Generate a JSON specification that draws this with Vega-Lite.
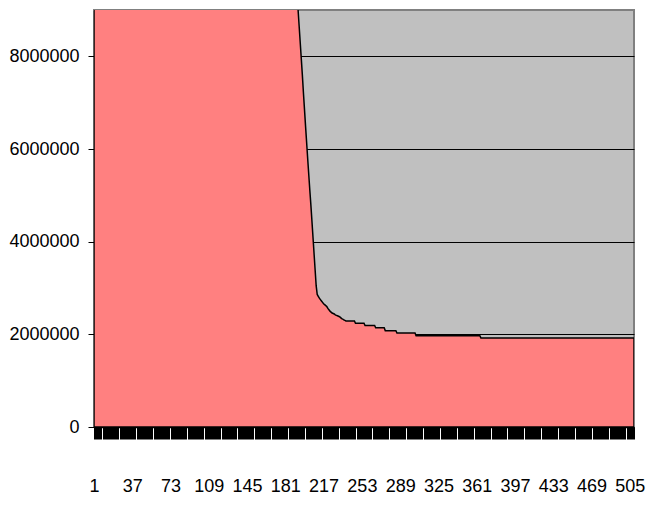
{
  "$schema": "https://vega.github.io/schema/vega-lite/v6.json",
  "autosize": {"type": "none"},
  "padding": {"left": 94, "top": 10, "right": 14, "bottom": 80},
  "width": 540,
  "height": 417,
  "background": "white",
  "config": {
    "view": {"fill": "#C0C0C0", "stroke": "#808080", "strokeWidth": 2},
    "axis": {
      "labelFont": "Liberation Sans",
      "labelFontSize": 18,
      "labelColor": "black",
      "domainColor": "black",
      "domainWidth": 1.5,
      "tickColor": "black",
      "tickWidth": 1,
      "title": null
    }
  },
  "data": {
    "values": [
      {"i":1,"v":68400000},{"i":2,"v":66950000},{"i":3,"v":65700000},{"i":4,"v":64320000},{"i":5,"v":63100000},
      {"i":6,"v":61880000},{"i":7,"v":60750000},{"i":8,"v":59600000},{"i":9,"v":58520000},{"i":10,"v":57410000},
      {"i":11,"v":56380000},{"i":12,"v":55300000},{"i":13,"v":54310000},{"i":14,"v":53290000},{"i":15,"v":52330000},
      {"i":16,"v":51360000},{"i":17,"v":50440000},{"i":18,"v":49500000},{"i":19,"v":48620000},{"i":20,"v":47730000},
      {"i":21,"v":46880000},{"i":22,"v":46020000},{"i":23,"v":45210000},{"i":24,"v":44390000},{"i":25,"v":43600000},
      {"i":26,"v":42820000},{"i":27,"v":42070000},{"i":28,"v":41310000},{"i":29,"v":40590000},{"i":30,"v":39860000},
      {"i":31,"v":39170000},{"i":32,"v":38470000},{"i":33,"v":37800000},{"i":34,"v":37130000},{"i":35,"v":36490000},
      {"i":36,"v":35840000},{"i":37,"v":35220000},{"i":38,"v":34600000},{"i":39,"v":34010000},{"i":40,"v":33410000},
      {"i":41,"v":32840000},{"i":42,"v":32270000},{"i":43,"v":31720000},{"i":44,"v":31170000},{"i":45,"v":30650000},
      {"i":46,"v":30120000},{"i":47,"v":29620000},{"i":48,"v":29110000},{"i":49,"v":28630000},{"i":50,"v":28140000},
      {"i":51,"v":27680000},{"i":52,"v":27220000},{"i":53,"v":26780000},{"i":54,"v":26330000},{"i":55,"v":25910000},
      {"i":56,"v":25490000},{"i":57,"v":25080000},{"i":58,"v":24680000},{"i":59,"v":24290000},{"i":60,"v":23900000},
      {"i":61,"v":23530000},{"i":62,"v":23160000},{"i":63,"v":22800000},{"i":64,"v":22450000},{"i":65,"v":22110000},
      {"i":66,"v":21770000},{"i":67,"v":21440000},{"i":68,"v":21120000},{"i":69,"v":20810000},{"i":70,"v":20500000},
      {"i":71,"v":20200000},{"i":72,"v":19910000},{"i":73,"v":19620000},{"i":74,"v":19340000},{"i":75,"v":19070000},
      {"i":76,"v":18800000},{"i":77,"v":18540000},{"i":78,"v":18290000},{"i":79,"v":18040000},{"i":80,"v":17800000},
      {"i":81,"v":17560000},{"i":82,"v":17330000},{"i":83,"v":17110000},{"i":84,"v":16890000},{"i":85,"v":16670000},
      {"i":86,"v":16460000},{"i":87,"v":16260000},{"i":88,"v":16060000},{"i":89,"v":15870000},{"i":90,"v":15680000},
      {"i":91,"v":15490000},{"i":92,"v":15310000},{"i":93,"v":15140000},{"i":94,"v":14970000},{"i":95,"v":14800000},
      {"i":96,"v":14640000},{"i":97,"v":14480000},{"i":98,"v":14330000},{"i":99,"v":14180000},{"i":100,"v":14030000},
      {"i":101,"v":13890000},{"i":102,"v":13750000},{"i":103,"v":13620000},{"i":104,"v":13490000},{"i":105,"v":13360000},
      {"i":106,"v":13240000},{"i":107,"v":13120000},{"i":108,"v":13000000},{"i":109,"v":12890000},{"i":110,"v":12780000},
      {"i":111,"v":12670000},{"i":112,"v":12570000},{"i":113,"v":12470000},{"i":114,"v":12370000},{"i":115,"v":12270000},
      {"i":116,"v":12180000},{"i":117,"v":12090000},{"i":118,"v":12000000},{"i":119,"v":11920000},{"i":120,"v":11840000},
      {"i":121,"v":11760000},{"i":122,"v":11680000},{"i":123,"v":11600000},{"i":124,"v":11530000},{"i":125,"v":11460000},
      {"i":126,"v":11390000},{"i":127,"v":11320000},{"i":128,"v":11250000},{"i":129,"v":11190000},{"i":130,"v":11130000},
      {"i":131,"v":11070000},{"i":132,"v":11010000},{"i":133,"v":10950000},{"i":134,"v":10900000},{"i":135,"v":10850000},
      {"i":136,"v":10800000},{"i":137,"v":10750000},{"i":138,"v":10700000},{"i":139,"v":10650000},{"i":140,"v":10610000},
      {"i":141,"v":10570000},{"i":142,"v":10530000},{"i":143,"v":10490000},{"i":144,"v":10450000},{"i":145,"v":10410000},
      {"i":146,"v":10370000},{"i":147,"v":10340000},{"i":148,"v":10310000},{"i":149,"v":10280000},{"i":150,"v":10250000},
      {"i":151,"v":10220000},{"i":152,"v":10190000},{"i":153,"v":10160000},{"i":154,"v":10130000},{"i":155,"v":10100000},
      {"i":156,"v":10080000},{"i":157,"v":10060000},{"i":158,"v":10040000},{"i":159,"v":10020000},{"i":160,"v":10000000},
      {"i":161,"v":9980000},{"i":162,"v":9960000},{"i":163,"v":9940000},{"i":164,"v":9920000},{"i":165,"v":9900000},
      {"i":166,"v":9880000},{"i":167,"v":9860000},{"i":168,"v":9840000},{"i":169,"v":9820000},{"i":170,"v":9800000},
      {"i":171,"v":9780000},{"i":172,"v":9760000},{"i":173,"v":9740000},{"i":174,"v":9720000},{"i":175,"v":9700000},
      {"i":176,"v":9680000},{"i":177,"v":9660000},{"i":178,"v":9640000},{"i":179,"v":9620000},{"i":180,"v":9600000},
      {"i":181,"v":9580000},{"i":182,"v":9560000},{"i":183,"v":9540000},{"i":184,"v":9520000},{"i":185,"v":9500000},
      {"i":186,"v":9480000},{"i":187,"v":9460000},{"i":188,"v":9440000},{"i":189,"v":9420000},{"i":190,"v":9400000},
      {"i":191,"v":9380000},{"i":192,"v":9350000},{"i":193,"v":9000000},{"i":194,"v":8650000},{"i":195,"v":8300000},
      {"i":196,"v":7950000},{"i":197,"v":7600000},{"i":198,"v":7220000},{"i":199,"v":6860000},{"i":200,"v":6500000},
      {"i":201,"v":6150000},{"i":202,"v":5800000},{"i":203,"v":5460000},{"i":204,"v":5120000},{"i":205,"v":4800000},
      {"i":206,"v":4450000},{"i":207,"v":4100000},{"i":208,"v":3750000},{"i":209,"v":3400000},{"i":210,"v":3050000},
      {"i":211,"v":2860000},{"i":212,"v":2820000},{"i":213,"v":2780000},{"i":214,"v":2750000},{"i":215,"v":2720000},
      {"i":216,"v":2690000},{"i":217,"v":2660000},{"i":218,"v":2640000},{"i":219,"v":2620000},{"i":220,"v":2600000},
      {"i":221,"v":2560000},{"i":222,"v":2530000},{"i":223,"v":2500000},{"i":224,"v":2480000},{"i":225,"v":2460000},
      {"i":226,"v":2450000},{"i":227,"v":2440000},{"i":228,"v":2420000},{"i":229,"v":2410000},{"i":230,"v":2400000},
      {"i":231,"v":2390000},{"i":232,"v":2380000},{"i":233,"v":2360000},{"i":234,"v":2340000},{"i":235,"v":2330000},
      {"i":236,"v":2310000},{"i":237,"v":2300000},{"i":238,"v":2290000},{"i":239,"v":2290000},{"i":240,"v":2290000},
      {"i":241,"v":2290000},{"i":242,"v":2290000},{"i":243,"v":2290000},{"i":244,"v":2290000},{"i":245,"v":2290000},
      {"i":246,"v":2290000},{"i":247,"v":2240000},{"i":248,"v":2240000},{"i":249,"v":2240000},{"i":250,"v":2240000},
      {"i":251,"v":2240000},{"i":252,"v":2240000},{"i":253,"v":2240000},{"i":254,"v":2240000},{"i":255,"v":2240000},
      {"i":256,"v":2190000},{"i":257,"v":2190000},{"i":258,"v":2190000},{"i":259,"v":2190000},{"i":260,"v":2190000},
      {"i":261,"v":2190000},{"i":262,"v":2190000},{"i":263,"v":2190000},{"i":264,"v":2190000},{"i":265,"v":2190000},
      {"i":266,"v":2140000},{"i":267,"v":2140000},{"i":268,"v":2140000},{"i":269,"v":2140000},{"i":270,"v":2140000},
      {"i":271,"v":2140000},{"i":272,"v":2140000},{"i":273,"v":2140000},{"i":274,"v":2140000},{"i":275,"v":2080000},
      {"i":276,"v":2080000},{"i":277,"v":2080000},{"i":278,"v":2080000},{"i":279,"v":2080000},{"i":280,"v":2080000},
      {"i":281,"v":2080000},{"i":282,"v":2080000},{"i":283,"v":2080000},{"i":284,"v":2080000},{"i":285,"v":2080000},
      {"i":286,"v":2030000},{"i":287,"v":2030000},{"i":288,"v":2030000},{"i":289,"v":2030000},{"i":290,"v":2030000},
      {"i":291,"v":2030000},{"i":292,"v":2030000},{"i":293,"v":2030000},{"i":294,"v":2030000},{"i":295,"v":2030000},
      {"i":296,"v":2030000},{"i":297,"v":2030000},{"i":298,"v":2030000},{"i":299,"v":2030000},{"i":300,"v":2030000},
      {"i":301,"v":2030000},{"i":302,"v":2030000},{"i":303,"v":2030000},{"i":304,"v":1970000},{"i":305,"v":1970000},
      {"i":306,"v":1970000},{"i":307,"v":1970000},{"i":308,"v":1970000},{"i":309,"v":1970000},{"i":310,"v":1970000},
      {"i":311,"v":1970000},{"i":312,"v":1970000},{"i":313,"v":1970000},{"i":314,"v":1970000},{"i":315,"v":1970000},
      {"i":316,"v":1970000},{"i":317,"v":1970000},{"i":318,"v":1970000},{"i":319,"v":1970000},{"i":320,"v":1970000},
      {"i":321,"v":1970000},{"i":322,"v":1970000},{"i":323,"v":1970000},{"i":324,"v":1970000},{"i":325,"v":1970000},
      {"i":326,"v":1970000},{"i":327,"v":1970000},{"i":328,"v":1970000},{"i":329,"v":1970000},{"i":330,"v":1970000},
      {"i":331,"v":1970000},{"i":332,"v":1970000},{"i":333,"v":1970000},{"i":334,"v":1970000},{"i":335,"v":1970000},
      {"i":336,"v":1970000},{"i":337,"v":1970000},{"i":338,"v":1970000},{"i":339,"v":1970000},{"i":340,"v":1970000},
      {"i":341,"v":1970000},{"i":342,"v":1970000},{"i":343,"v":1970000},{"i":344,"v":1970000},{"i":345,"v":1970000},
      {"i":346,"v":1970000},{"i":347,"v":1970000},{"i":348,"v":1970000},{"i":349,"v":1970000},{"i":350,"v":1970000},
      {"i":351,"v":1970000},{"i":352,"v":1970000},{"i":353,"v":1970000},{"i":354,"v":1970000},{"i":355,"v":1970000},
      {"i":356,"v":1970000},{"i":357,"v":1970000},{"i":358,"v":1970000},{"i":359,"v":1970000},{"i":360,"v":1970000},
      {"i":361,"v":1970000},{"i":362,"v":1970000},{"i":363,"v":1970000},{"i":364,"v":1970000},{"i":365,"v":1920000},
      {"i":366,"v":1920000},{"i":367,"v":1920000},{"i":368,"v":1920000},{"i":369,"v":1920000},{"i":370,"v":1920000},
      {"i":371,"v":1920000},{"i":372,"v":1920000},{"i":373,"v":1920000},{"i":374,"v":1920000},{"i":375,"v":1920000},
      {"i":376,"v":1920000},{"i":377,"v":1920000},{"i":378,"v":1920000},{"i":379,"v":1920000},{"i":380,"v":1920000},
      {"i":381,"v":1920000},{"i":382,"v":1920000},{"i":383,"v":1920000},{"i":384,"v":1920000},{"i":385,"v":1920000},
      {"i":386,"v":1920000},{"i":387,"v":1920000},{"i":388,"v":1920000},{"i":389,"v":1920000},{"i":390,"v":1920000},
      {"i":391,"v":1920000},{"i":392,"v":1920000},{"i":393,"v":1920000},{"i":394,"v":1920000},{"i":395,"v":1920000},
      {"i":396,"v":1920000},{"i":397,"v":1920000},{"i":398,"v":1920000},{"i":399,"v":1920000},{"i":400,"v":1920000},
      {"i":401,"v":1920000},{"i":402,"v":1920000},{"i":403,"v":1920000},{"i":404,"v":1920000},{"i":405,"v":1920000},
      {"i":406,"v":1920000},{"i":407,"v":1920000},{"i":408,"v":1920000},{"i":409,"v":1920000},{"i":410,"v":1920000},
      {"i":411,"v":1920000},{"i":412,"v":1920000},{"i":413,"v":1920000},{"i":414,"v":1920000},{"i":415,"v":1920000},
      {"i":416,"v":1920000},{"i":417,"v":1920000},{"i":418,"v":1920000},{"i":419,"v":1920000},{"i":420,"v":1920000},
      {"i":421,"v":1920000},{"i":422,"v":1920000},{"i":423,"v":1920000},{"i":424,"v":1920000},{"i":425,"v":1920000},
      {"i":426,"v":1920000},{"i":427,"v":1920000},{"i":428,"v":1920000},{"i":429,"v":1920000},{"i":430,"v":1920000},
      {"i":431,"v":1920000},{"i":432,"v":1920000},{"i":433,"v":1920000},{"i":434,"v":1920000},{"i":435,"v":1920000},
      {"i":436,"v":1920000},{"i":437,"v":1920000},{"i":438,"v":1920000},{"i":439,"v":1920000},{"i":440,"v":1920000},
      {"i":441,"v":1920000},{"i":442,"v":1920000},{"i":443,"v":1920000},{"i":444,"v":1920000},{"i":445,"v":1920000},
      {"i":446,"v":1920000},{"i":447,"v":1920000},{"i":448,"v":1920000},{"i":449,"v":1920000},{"i":450,"v":1920000},
      {"i":451,"v":1920000},{"i":452,"v":1920000},{"i":453,"v":1920000},{"i":454,"v":1920000},{"i":455,"v":1920000},
      {"i":456,"v":1920000},{"i":457,"v":1920000},{"i":458,"v":1920000},{"i":459,"v":1920000},{"i":460,"v":1920000},
      {"i":461,"v":1920000},{"i":462,"v":1920000},{"i":463,"v":1920000},{"i":464,"v":1920000},{"i":465,"v":1920000},
      {"i":466,"v":1920000},{"i":467,"v":1920000},{"i":468,"v":1920000},{"i":469,"v":1920000},{"i":470,"v":1920000},
      {"i":471,"v":1920000},{"i":472,"v":1920000},{"i":473,"v":1920000},{"i":474,"v":1920000},{"i":475,"v":1920000},
      {"i":476,"v":1920000},{"i":477,"v":1920000},{"i":478,"v":1920000},{"i":479,"v":1920000},{"i":480,"v":1920000},
      {"i":481,"v":1920000},{"i":482,"v":1920000},{"i":483,"v":1920000},{"i":484,"v":1920000},{"i":485,"v":1920000},
      {"i":486,"v":1920000},{"i":487,"v":1920000},{"i":488,"v":1920000},{"i":489,"v":1920000},{"i":490,"v":1920000},
      {"i":491,"v":1920000},{"i":492,"v":1920000},{"i":493,"v":1920000},{"i":494,"v":1920000},{"i":495,"v":1920000},
      {"i":496,"v":1920000},{"i":497,"v":1920000},{"i":498,"v":1920000},{"i":499,"v":1920000},{"i":500,"v":1920000},
      {"i":501,"v":1920000},{"i":502,"v":1920000},{"i":503,"v":1920000},{"i":504,"v":1920000},{"i":505,"v":1920000},
      {"i":506,"v":1920000},{"i":507,"v":1920000},{"i":508,"v":1920000},{"i":509,"v":1920000}
    ]
  },
  "mark": {
    "type": "area",
    "fill": "#FF8080",
    "fillOpacity": 1,
    "stroke": "black",
    "strokeWidth": 1.5,
    "clip": true,
    "interpolate": "linear"
  },
  "encoding": {
    "x": {
      "field": "i",
      "type": "quantitative",
      "scale": {"domain": [1, 509], "nice": false, "zero": false},
      "axis": {
        "tickCount": 509,
        "tickSize": 12,
        "format": "d",
        "labelExpr": "(datum.value - 1) % 36 == 0 ? datum.label : ''",
        "labelOverlap": false,
        "labelFlush": false,
        "labelBound": false,
        "labelPadding": 38,
        "grid": false
      }
    },
    "y": {
      "field": "v",
      "type": "quantitative",
      "scale": {"domain": [0, 9000000], "nice": false},
      "axis": {
        "values": [0, 2000000, 4000000, 6000000, 8000000],
        "format": "d",
        "tickSize": 6,
        "labelPadding": 9,
        "grid": true,
        "gridColor": "black",
        "gridWidth": 1,
        "gridOpacity": 1
      }
    }
  }
}
